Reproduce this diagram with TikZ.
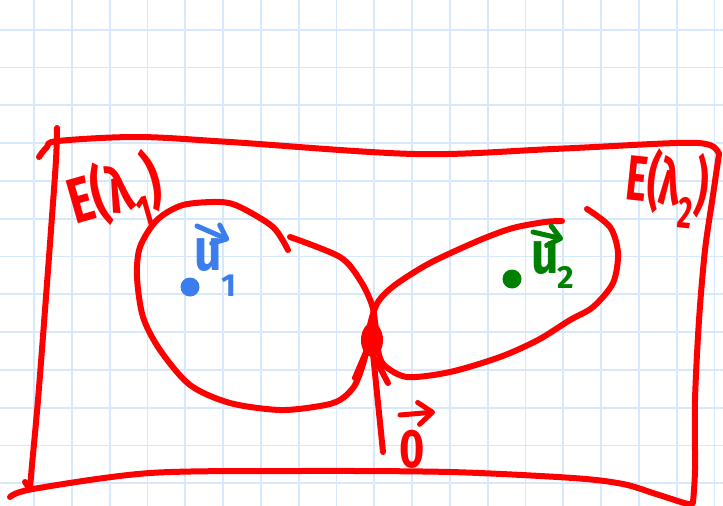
\documentclass[tikz,border=0pt]{standalone}
\usepackage{fontspec}
\setmainfont{Fira Sans}
\usetikzlibrary{arrows.meta}
\definecolor{gridblue}{RGB}{214,232,252}
\definecolor{penred}{RGB}{255,0,0}
\definecolor{penblue}{RGB}{59,125,237}
\definecolor{pengreen}{RGB}{0,128,0}
\tikzset{
  gridline/.style={line width=1.8pt, gridblue},
  pen/.style={line width=6pt, line cap=round, line join=round, penred},
  bluepen/.style={line width=5pt, line cap=round, line join=round, penblue},
  greenpen/.style={line width=5pt, line cap=round, line join=round, pengreen},
  lbl/.style={inner sep=0pt, outer sep=0pt},
  bigfont/.style={font=\bfseries\fontsize{64}{64}\selectfont},
  ufont/.style={font=\bfseries\fontsize{60}{60}\selectfont},
  subfont/.style={font=\bfseries\fontsize{32}{32}\selectfont},
  dotmark/.style={circle, inner sep=0pt, minimum size=19pt},
  barb/.style={-{Straight Barb[length=12pt,width=20pt,round]}}
}
\begin{document}
\begin{tikzpicture}[x=1pt,y=-1pt]
\useasboundingbox (0,0) rectangle (723,506);
\fill[white] (0,0) rectangle (723,506);
% graph paper
\foreach \i in {0,...,18} \draw[gridline] ({34+37.8*\i},0) -- ({34+37.8*\i},506);
\foreach \j in {0,...,12} \draw[gridline] (0,{29.7+37.8*\j}) -- (723,{29.7+37.8*\j});
% frame
\draw[pen] plot[smooth, tension=0.55] coordinates {(39,157) (47,147) (58,141) (138,137) (230,142) (415,154) (553,149) (677,143) (710,145) (719,154)};
\draw[pen] plot[smooth] coordinates {(719,154) (713,195) (705,250) (699,320) (695,400) (695,470) (693,502)};
\draw[pen] plot[smooth] coordinates {(10,497) (33,489) (150,473) (300,471) (450,472) (573,478) (623,484) (656,494) (688,504) (693,502)};
\draw[pen] plot[smooth] coordinates {(57,128) (56,160) (51,230) (45,310) (38,400) (32,465) (30,488)};
\draw[pen] (25,482) -- (30,489);
% labels E(lambda)
\node[lbl, bigfont, penred, rotate=16] (E1) at (116,196) {\scalebox{0.72}[1]{E(λ\textsubscript{1})}};
\node[lbl, bigfont, penred, rotate=-6] (E2) at (667,188) {\scalebox{0.62}[1]{E(λ\textsubscript{2})}};
% loops
\coordinate (J) at (372,340);
\draw[pen] plot[smooth] coordinates {(288,250) (273,227) (240,207) (220,202) (183,205) (157,220) (140,247) (137,277) (143,317) (160,350) (190,385) (230,403) (280,410) (320,406) (340,400) (355,385) (365,357) (370,325) (378,302) (395,285) (430,263) (480,240) (513,228) (545,222) (562,221)};
\draw[pen] plot[smooth] coordinates {(290,237) (340,257) (360,280) (372,305) (376,330) (378,350) (384,365) (407,377) (450,372) (500,357) (538,340) (570,320) (593,307) (613,283) (618,253) (610,227) (587,209)};
\fill[penred] (J) ellipse [x radius=11, y radius=17];
% zero vector
\coordinate (Z) at (383,452);
\draw[pen] (Z) -- ([shift={(0,4)}]J);
\draw[pen] ([shift={(-5,10)}]J) -- ([shift={(-17,38)}]J);
\draw[pen] ([shift={(4,20)}]J) -- ([shift={(16,43)}]J);
\node[lbl, penred, font=\bfseries\fontsize{54}{54}\selectfont] (O) at (412,449) {\scalebox{0.8}[1]{0}};
\draw[pen, line width=5pt, -{Straight Barb[length=14pt,width=22pt,round]}] ([shift={(-12,-34)}]O.center) -- ([shift={(23,-37)}]O.center);
% u1
\node[dotmark, fill=penblue] (P1) at (190,287) {};
\node[lbl, ufont, penblue] (U1) at (208,255) {\scalebox{0.8}[1]{u}};
\node[lbl, subfont, penblue] (S1) at (229,286) {1};
\draw[bluepen, barb] ([shift={(-11,-29)}]U1.center) -- ([shift={(21,-15)}]U1.center);
% u2
\node[dotmark, fill=pengreen] (P2) at (512,279) {};
\node[lbl, ufont, pengreen] (U2) at (545,258) {\scalebox{0.8}[1]{u}};
\node[lbl, subfont, pengreen] (S2) at (566,277) {2};
\draw[greenpen, barb] ([shift={(-12,-26)}]U2.center) -- ([shift={(18,-19)}]U2.center);
\end{tikzpicture}
\end{document}
